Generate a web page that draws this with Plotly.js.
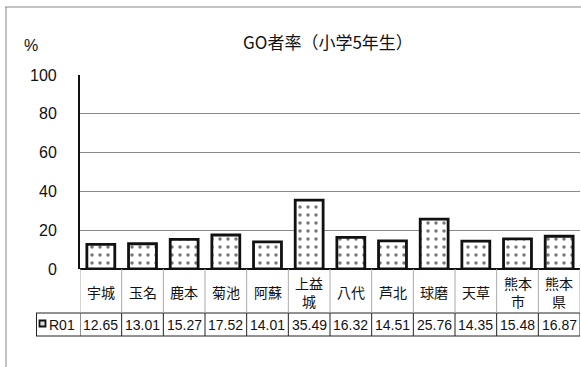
<!DOCTYPE html>
<html><head><meta charset="utf-8">
<script src="https://cdn.plot.ly/plotly-3.0.1.min.js"></script>
<style>body{margin:0;background:#fff}</style>
</head><body>
<div id="chart" style="width:581px;height:367px"></div>
<script>
const categories = ["宇城","玉名","鹿本","菊池","阿蘇","上益城","八代","芦北","球磨","天草","熊本市","熊本県"];
const categoryLabels = ["宇城","玉名","鹿本","菊池","阿蘇","上益<br>城","八代","芦北","球磨","天草","熊本<br>市","熊本<br>県"];
const seriesName = "R01";
const values = [12.65,13.01,15.27,17.52,14.01,35.49,16.32,14.51,25.76,14.35,15.48,16.87];
const yTicks = [0,20,40,60,80,100];

const W = 581, H = 367;
const L = 80, R = 1, T = 75, B = 98;
const pw = W - L - R, ph = H - T - B;
const px = x => (x - L) / pw;           // pixel -> paper x
const py = y => (H - B - y) / ph;       // pixel -> paper y

const font = '"Noto Sans CJK JP", "Liberation Sans", sans-serif';
const numFont = '"Liberation Sans", Arial, sans-serif';

const shapes = [];
const annotations = [];
// outer frame (top & left)
shapes.push({type:'line', xref:'paper', yref:'paper', x0:px(5), x1:px(581), y0:py(7), y1:py(7), line:{color:'#888', width:1}});
shapes.push({type:'line', xref:'paper', yref:'paper', x0:px(6), x1:px(6), y0:py(7), y1:py(367), line:{color:'#888', width:1}});
// table horizontal lines
shapes.push({type:'line', xref:'paper', yref:'paper', x0:px(36), x1:1, y0:py(313), y1:py(313), line:{color:'#222', width:1}});
shapes.push({type:'line', xref:'paper', yref:'paper', x0:px(36), x1:1, y0:py(336), y1:py(336), line:{color:'#222', width:1}});
shapes.push({type:'line', xref:'paper', yref:'paper', x0:px(36.5), x1:px(36.5), y0:py(313), y1:py(336), line:{color:'#222', width:1}});
// vertical separators
for (let i = 0; i <= categories.length; i++) {
  const xv = i - 0.5;
  shapes.push({type:'line', xref:'x', yref:'paper', x0:xv, x1:xv, y0:0, y1:py(313), line:{color:'#aaa', width:1}});
  shapes.push({type:'line', xref:'x', yref:'paper', x0:xv, x1:xv, y0:py(313), y1:py(336), line:{color:'#222', width:1}});
}
// legend key
shapes.push({type:'rect', xref:'paper', yref:'paper', x0:px(39.5), x1:px(45.5), y0:py(320.5), y1:py(326.5), line:{color:'#111', width:1.8}, fillcolor:'#ddd'});
annotations.push({xref:'paper', yref:'paper', x:px(46.5), y:py(324.5), xanchor:'left', yanchor:'middle', text:seriesName, showarrow:false, font:{family:numFont, size:14, color:'#111'}});

categories.forEach((c, i) => {
  annotations.push({xref:'x', yref:'paper', x:c, y:py(292), xanchor:'center', yanchor:'middle', text:categoryLabels[i], showarrow:false, font:{family:font, size:14, color:'#111'}});
  annotations.push({xref:'x', yref:'paper', x:c, y:py(325), xanchor:'center', yanchor:'middle', text:values[i].toFixed(2), showarrow:false, font:{family:numFont, size:14, color:'#111'}});
});
// y tick labels
yTicks.forEach(t => {
  annotations.push({xref:'paper', yref:'y', x:px(59), y:t, xanchor:'right', yanchor:'middle', text:String(t), showarrow:false, font:{family:numFont, size:16, color:'#111'}});
});
// "%" label
annotations.push({xref:'paper', yref:'paper', x:px(31), y:py(45), xanchor:'center', yanchor:'middle', text:'%', showarrow:false, font:{family:numFont, size:16, color:'#111'}});

const trace = {
  type:'bar', x:categories, y:values, name:seriesName, width:0.67,
  marker:{color:'#fff', line:{color:'#111', width:2.8},
    pattern:{shape:'.', fgcolor:'#777', bgcolor:'#fff', size:8, solidity:0.15}},
  hoverinfo:'none'
};

const layout = {
  width:W, height:H, margin:{l:L, r:R, t:T, b:B},
  paper_bgcolor:'#fff', plot_bgcolor:'#fff', showlegend:false,
  title:{text:'GO者率（小学5年生）', font:{family:font, size:17, color:'#111'}, x:328/W, xref:'container', xanchor:'center', y:1 - 43/H, yref:'container', yanchor:'middle'},
  xaxis:{type:'category', showticklabels:false, showgrid:false, zeroline:false, ticks:'', showline:false, range:[-0.5, categories.length - 0.5]},
  yaxis:{range:[0,100], tickvals:yTicks, showticklabels:false, showgrid:true, gridcolor:'#8a8a8a', gridwidth:1, zeroline:true, zerolinecolor:'#111', zerolinewidth:2.5,
    showline:true, linecolor:'#111', linewidth:2.5, ticks:''},
  shapes, annotations
};
Plotly.newPlot('chart', [trace], layout, {staticPlot:true, displayModeBar:false});
</script>
</body></html>
